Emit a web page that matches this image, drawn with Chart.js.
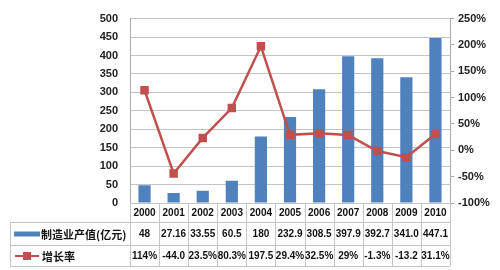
<!DOCTYPE html>
<html><head><meta charset="utf-8">
<script src="https://cdn.jsdelivr.net/npm/chart.js@4/dist/chart.umd.min.js"></script>
<style>html,body{margin:0;padding:0;background:#fff}</style>
</head>
<body>
<canvas id="c" width="500" height="270"></canvas>
<script>
const categories = ['2000','2001','2002','2003','2004','2005','2006','2007','2008','2009','2010'];
const outputValues = [48, 27.16, 33.55, 60.5, 180, 232.9, 308.5, 397.9, 392.7, 341.0, 447.1];
const growthRates = [114, -44.0, 23.5, 80.3, 197.5, 29.4, 32.5, 29, -1.3, -13.2, 31.1];
const outputLabels = ['48','27.16','33.55','60.5','180','232.9','308.5','397.9','392.7','341.0','447.1'];
const growthLabels = ['114%','-44.0','23.5%','80.3%','197.5','29.4%','32.5%','29%','-1.3%','-13.2','31.1%'];
const seriesNames = ['制造业产值(亿元)', '增长率'];
const leftAxis = {min: 0, max: 500, step: 50};
const rightAxis = {min: -100, max: 250, step: 50};

const BLUE = '#4F81BD', RED = '#C0504D', GRID = '#c4c4c4';
const FONT = '"Liberation Sans", Arial, sans-serif';
const CJK = '"Noto Sans CJK SC", sans-serif';

const tablePlugin = {
  id: 'dataTable',
  afterDraw(chart) {
    const ctx = chart.ctx, a = chart.chartArea, xs = chart.scales.x;
    const n = categories.length;
    const w = (a.right - a.left) / n;
    const top = a.bottom, r0 = 222, r1 = 245, r2 = 266, left = 10;
    ctx.save();
    ctx.strokeStyle = GRID; ctx.lineWidth = 1;
    ctx.beginPath();
    [r0, r1, r2].forEach(y => { ctx.moveTo(left, y + 0.5); ctx.lineTo(a.right, y + 0.5); });
    for (let i = 0; i <= n; i++) {
      const x = Math.round(a.left + i * w) + 0.5;
      ctx.moveTo(x, top); ctx.lineTo(x, r2);
    }
    ctx.moveTo(left + 0.5, r0); ctx.lineTo(left + 0.5, r2);
    ctx.stroke();

    ctx.fillStyle = '#111';
    ctx.textAlign = 'center'; ctx.textBaseline = 'middle';
    ctx.font = 'bold 10px ' + FONT;
    categories.forEach((c, i) => {
      const x = xs.getPixelForValue(i);
      ctx.fillText(c, x, (top + r0) / 2 + 1);
      ctx.fillText(outputLabels[i], x, (r0 + r1) / 2 + 1);
      ctx.fillText(growthLabels[i], x, (r1 + r2) / 2 + 1);
    });
    ctx.fillStyle = BLUE;
    ctx.fillRect(14, (r0 + r1) / 2 - 2, 26, 5);
    ctx.strokeStyle = RED; ctx.lineWidth = 2;
    ctx.beginPath(); ctx.moveTo(15, (r1 + r2) / 2 + 0.5); ctx.lineTo(39, (r1 + r2) / 2 + 0.5); ctx.stroke();
    ctx.fillStyle = RED;
    ctx.fillRect(23, (r1 + r2) / 2 - 3.5, 8, 8);
    ctx.fillStyle = '#111';
    ctx.textAlign = 'left';
    ctx.font = 'bold 11px ' + CJK;
    ctx.fillText(seriesNames[0], 41, (r0 + r1) / 2 + 1);
    ctx.fillText(seriesNames[1], 42, (r1 + r2) / 2 + 1);
    ctx.restore();
  }
};

new Chart(document.getElementById('c'), {
  data: {
    labels: categories,
    datasets: [
      {
        type: 'line', label: seriesNames[1], data: growthRates, yAxisID: 'y2', order: 0,
        borderColor: RED, backgroundColor: RED, borderWidth: 2.5,
        pointStyle: 'rect', pointRadius: 6, pointBackgroundColor: RED, pointBorderWidth: 0,
        tension: 0
      },
      {
        type: 'bar', label: seriesNames[0], data: outputValues, yAxisID: 'y', order: 1,
        backgroundColor: BLUE, categoryPercentage: 1, barPercentage: 0.42
      }
    ]
  },
  options: {
    responsive: false, animation: false,
    layout: {padding: {top: 15, bottom: 67, left: 0, right: 0}},
    plugins: {legend: {display: false}, tooltip: {enabled: false}},
    scales: {
      x: {display: false},
      y: {
        position: 'left', min: leftAxis.min, max: leftAxis.max,
        afterFit: s => { s.width = 130; },
        ticks: {stepSize: leftAxis.step, padding: 12, color: '#222', font: {family: FONT, size: 11, weight: 'bold'}},
        grid: {color: GRID, drawTicks: false},
        border: {display: true, color: '#aaa'}
      },
      y2: {
        position: 'right', min: rightAxis.min, max: rightAxis.max,
        afterFit: s => { s.width = 50; },
        ticks: {stepSize: rightAxis.step, padding: 4, color: '#222', font: {family: FONT, size: 11, weight: 'bold'},
          callback: v => v + '%'},
        grid: {drawOnChartArea: false, tickLength: 4, color: '#aaa'},
        border: {display: true, color: '#aaa'}
      }
    }
  },
  plugins: [tablePlugin]
});
</script>
</body></html>
